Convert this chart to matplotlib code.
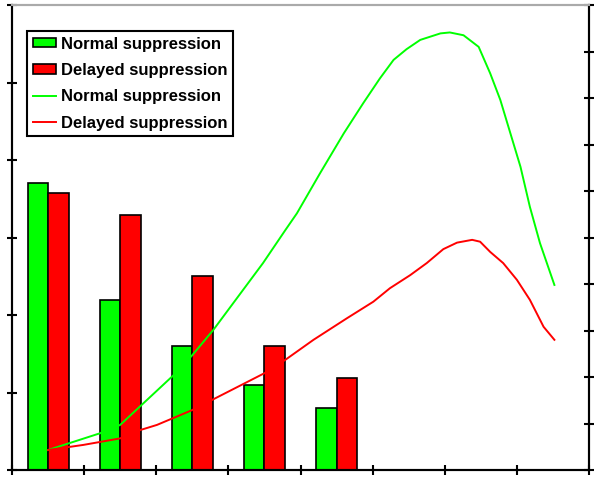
import matplotlib
matplotlib.use("Agg")
import matplotlib.pyplot as plt
import numpy as np

# bar data (left axis)
groups = np.arange(5) + 0.5
normal_bars = [3.70, 2.20, 1.60, 1.10, 0.80]
delayed_bars = [3.58, 3.29, 2.50, 1.60, 1.19]

# line data (right axis)
normal_x = [0.50, 1.22, 1.50, 2.24, 2.50, 2.79, 3.48, 3.79, 3.95, 4.27, 4.60, 4.87,
            5.10, 5.29, 5.47, 5.66, 5.94, 6.07, 6.26, 6.47, 6.63, 6.77, 6.91, 7.05,
            7.18, 7.32, 7.52]
normal_y = [0.43, 0.79, 0.97, 2.04, 2.47, 3.01, 4.45, 5.16, 5.52, 6.38, 7.24, 7.89,
            8.42, 8.82, 9.05, 9.25, 9.39, 9.41, 9.35, 9.10, 8.53, 7.96, 7.24, 6.52,
            5.66, 4.88, 3.98]
delayed_x = [0.50, 0.99, 1.50, 1.78, 2.01, 2.50, 2.79, 3.51, 3.79, 4.18, 4.64, 5.01,
             5.24, 5.52, 5.75, 5.98, 6.17, 6.38, 6.49, 6.63, 6.81, 7.00, 7.18, 7.37,
             7.52]
delayed_y = [0.43, 0.54, 0.68, 0.86, 0.97, 1.29, 1.52, 2.09, 2.37, 2.80, 3.26, 3.62,
             3.91, 4.19, 4.45, 4.75, 4.89, 4.95, 4.91, 4.69, 4.45, 4.09, 3.66, 3.08,
             2.80]

green = "#00ff00"
red = "#ff0000"
w = 0.285

fig = plt.figure(figsize=(6, 4.83), dpi=100)
ax = fig.add_axes([0.02, 0.0269, 0.9617, 0.9627])
ax2 = ax.twinx()

b1 = ax.bar(groups - w / 2, normal_bars, w, color=green, edgecolor="black", linewidth=1.2,
            label="Normal suppression")
b2 = ax.bar(groups + w / 2, delayed_bars, w, color=red, edgecolor="black", linewidth=1.2,
            label="Delayed suppression")
l1, = ax2.plot(normal_x, normal_y, color=green, lw=1.4, label="Normal suppression")
l2, = ax2.plot(delayed_x, delayed_y, color=red, lw=1.4, label="Delayed suppression")

ax.set_xlim(0, 8)
ax.set_ylim(0, 6)
ax2.set_ylim(0, 10)
ax.set_xticks(np.arange(9))
ax.set_yticks(np.arange(7))
ax2.set_yticks(np.arange(11))

for a in (ax, ax2):
    a.tick_params(direction="inout", length=7.5, width=1.5,
                  labelleft=False, labelbottom=False, labelright=False)
    for side in ("left", "right", "bottom"):
        a.spines[side].set_linewidth(1.5)
        a.spines[side].set_color("black")
    a.spines["top"].set_color("#aaaaaa")
    a.spines["top"].set_linewidth(1.5)

leg = ax2.legend([b1, b2, l1, l2],
                 ["Normal suppression", "Delayed suppression",
                  "Normal suppression", "Delayed suppression"],
                 loc="upper left", bbox_to_anchor=(0.0445, 0.9364),
                 bbox_transform=fig.transFigure, borderaxespad=0,
                 prop={"family": "Liberation Sans", "weight": "bold", "size": 12},
                 fancybox=False, framealpha=1, edgecolor="black",
                 handlelength=1.4, handleheight=0.5, handletextpad=0.3,
                 labelspacing=0.68, borderpad=0.35)
leg.get_frame().set_linewidth(1.5)

fig.savefig("out.png", dpi=100)
